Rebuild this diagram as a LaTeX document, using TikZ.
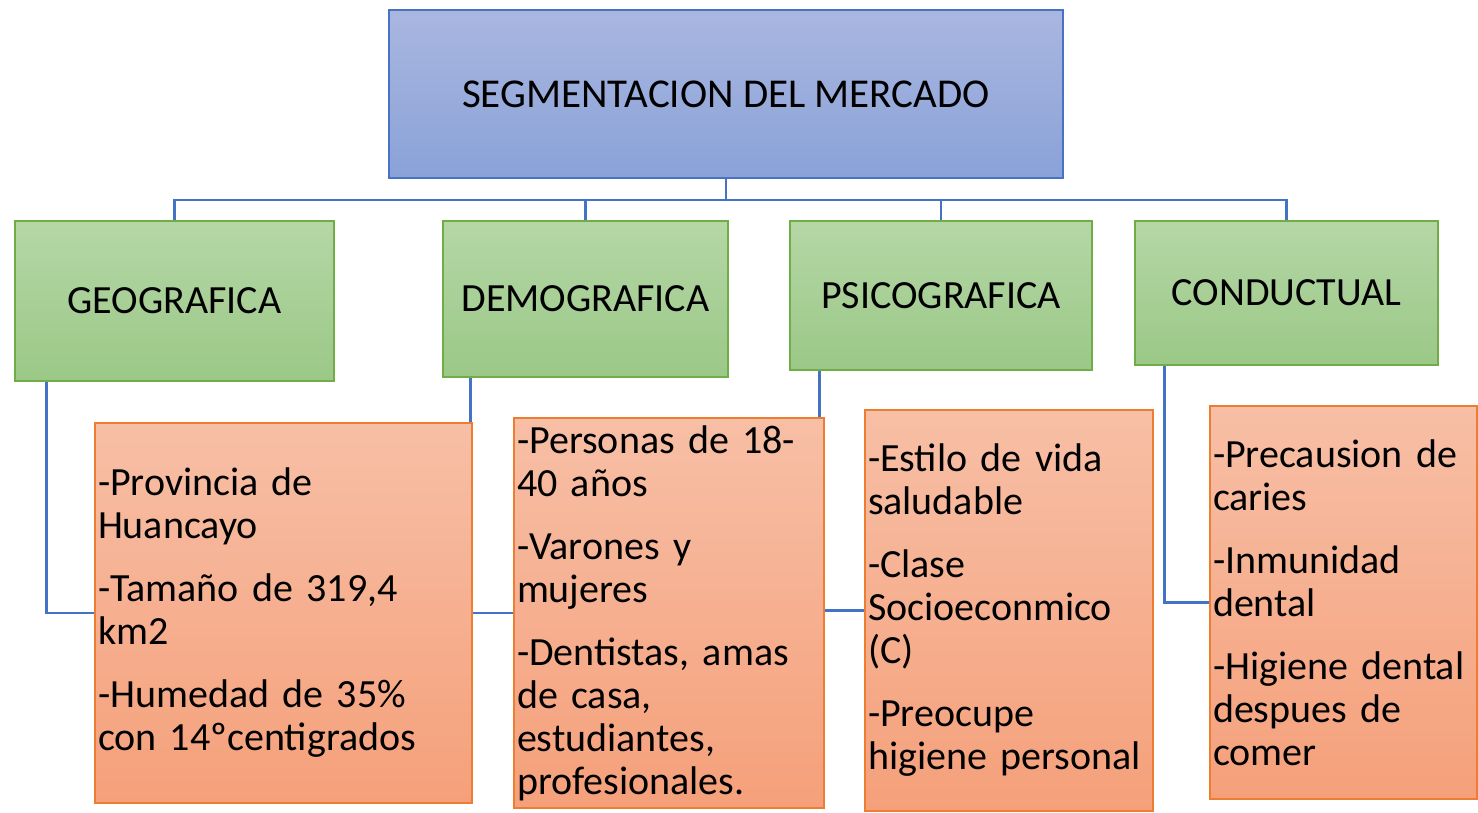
\documentclass[tikz,border=0pt]{standalone}
\usepackage{fontspec}
\setmainfont{Carlito}
\usetikzlibrary{backgrounds}

\definecolor{bluetop}{HTML}{A9B7E0}
\definecolor{bluebot}{HTML}{8AA2D8}
\definecolor{blueedge}{HTML}{4A72C4}
\definecolor{greentop}{HTML}{B5D7A6}
\definecolor{greenbot}{HTML}{9BC887}
\definecolor{greenedge}{HTML}{70AD47}
\definecolor{orangetop}{HTML}{F7BFA6}
\definecolor{orangebot}{HTML}{F5A07A}
\definecolor{orangeedge}{HTML}{ED7D31}
\definecolor{linkblue}{HTML}{4472C4}

\begin{document}
\begin{tikzpicture}[x=1pt,y=-1pt,
    rootbox/.style={draw=blueedge, line width=1.2pt, top color=bluetop, bottom color=bluebot,
      font=\fontsize{41}{43}\selectfont},
    segbox/.style={draw=greenedge, line width=1.2pt, top color=greentop, bottom color=greenbot,
      font=\fontsize{40}{43}\selectfont},
    itembox/.style={draw=orangeedge, line width=1.2pt, top color=orangetop, bottom color=orangebot,
      align=left, inner xsep=3pt, font=\fontsize{40}{43}\selectfont},
    link/.style={draw=linkblue, line width=2.8pt}]

  \useasboundingbox (0,0) rectangle (1478,812);

  % Root
  \node[rootbox, minimum width=674, minimum height=168] (seg) at (726,94) {SEGMENTACION DEL MERCADO};

  % Segments
  \node[segbox, minimum width=319, minimum height=160] (geo)   at (174.5,301)  {GEOGRAFICA};
  \node[segbox, minimum width=285, minimum height=156] (demo)  at (585.5,299)  {DEMOGRAFICA};
  \node[segbox, minimum width=302, minimum height=149] (psico) at (941,295.5)  {PSICOGRAFICA};
  \node[segbox, minimum width=303, minimum height=144] (cond)  at (1286.5,293) {CONDUCTUAL};

  % Items
  \node[itembox, minimum width=377, minimum height=380, text width=371] (geoitems) at (283.5,613)
    {-Provincia de\\Huancayo\\[20pt]-Tamaño de 319,4\\km2\\[20pt]-Humedad de 35\%\\con 14ºcentigrados};
  \node[itembox, minimum width=310, minimum height=390, text width=304] (demoitems) at (669,613)
    {-Personas de 18-\\40 años\\[20pt]-Varones y\\mujeres\\[20pt]-Dentistas, amas\\de casa,\\estudiantes,\\profesionales.};
  \node[itembox, minimum width=288, minimum height=401, text width=282] (psicoitems) at (1009,610.5)
    {-Estilo de vida\\saludable\\[20pt]-Clase\\Socioeconmico\\(C)\\[20pt]-Preocupe\\higiene personal};
  \node[itembox, minimum width=267, minimum height=393, text width=261] (conditems) at (1343.5,602.5)
    {-Precausion de\\caries\\[20pt]-Inmunidad\\dental\\[20pt]-Higiene dental\\despues de\\comer};

  % Connectors
  \begin{scope}[on background layer]
    \coordinate (bus) at (726,200);
    \draw[link] (seg.south) -- (bus) -| (geo.north);
    \draw[link] (bus) -| (demo.north);
    \draw[link] (bus) -| (psico.north);
    \draw[link] (bus) -| (cond.north);

    \draw[link] ([xshift=32pt]geo.south west)   |- (geoitems.west);
    \draw[link] ([xshift=28pt]demo.south west)  |- (demoitems.west);
    \draw[link] ([xshift=30pt]psico.south west) |- (psicoitems.west);
    \draw[link] ([xshift=30pt]cond.south west)  |- (conditems.west);
  \end{scope}
\end{tikzpicture}
\end{document}
